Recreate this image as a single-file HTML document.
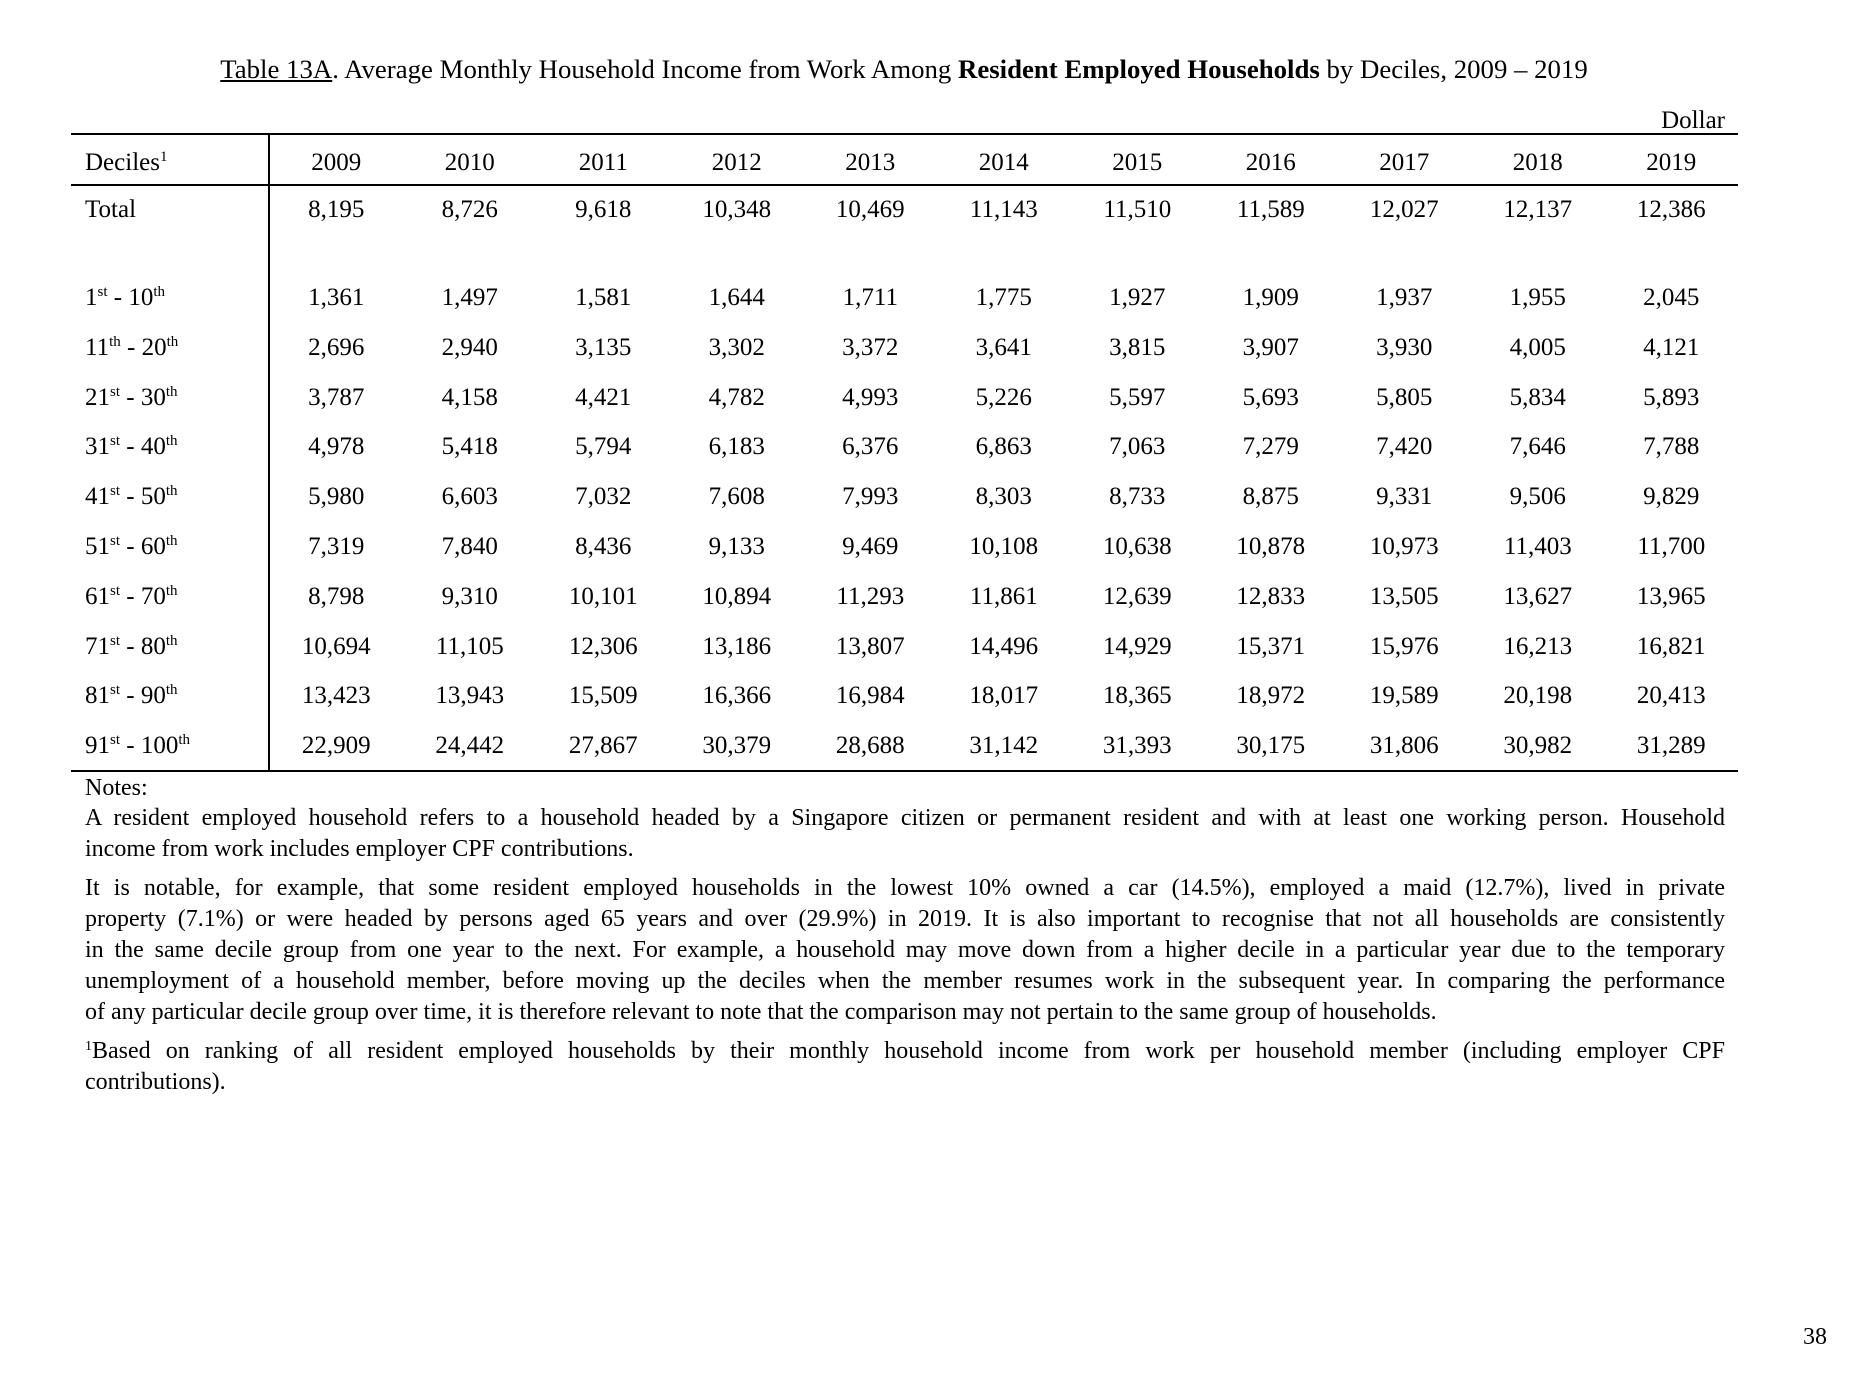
<!DOCTYPE html>
<html><head><meta charset="utf-8"><style>
body{margin:0;width:1850px;height:1378px;background:#fff;position:relative;font-family:"Liberation Serif",serif;color:#000;overflow:hidden}
.a{position:absolute;white-space:nowrap;line-height:1}
.h{position:absolute;background:#000}
.row{position:absolute;left:0;width:1850px;height:30px;font-size:25px}
.row span{position:absolute;top:0;width:134px;text-align:center;margin-left:-67px;line-height:30px}
.row .l{left:85px;margin-left:0;width:auto;text-align:left}
sup{font-size:15px;vertical-align:0;position:relative;top:-9px}
.n{position:absolute;left:85px;width:1640px;font-size:24px;line-height:31px;text-align:justify;text-align-last:justify;white-space:nowrap}
.n.e{text-align-last:left}
</style></head><body>
<div class="a" style="left:0;width:1808px;text-align:center;top:56px;font-size:26.8px"><u>Table 13A</u>. Average Monthly Household Income from Work Among <b>Resident Employed Households</b> by Deciles, 2009 – 2019</div>
<div class="a" style="right:125px;top:108px;font-size:25px">Dollar</div>
<div class="h" style="left:71px;width:1667px;top:133px;height:2px"></div>
<div class="h" style="left:71px;width:1667px;top:184px;height:2px"></div>
<div class="h" style="left:71px;width:1667px;top:770px;height:2px"></div>
<div class="h" style="left:268px;width:2px;top:133px;height:639px"></div>
<div id="rows"></div>
<div class="a" style="left:85px;top:776px;font-size:24px">Notes:</div>
<div class="n" style="top:803px">A resident employed household refers to a household headed by a Singapore citizen or permanent resident and with at least one working person. Household</div>
<div class="n e" style="top:834px">income from work includes employer CPF contributions.</div>
<div class="n" style="top:873px">It is notable, for example, that some resident employed households in the lowest 10% owned a car (14.5%), employed a maid (12.7%), lived in private</div>
<div class="n" style="top:904px">property (7.1%) or were headed by persons aged 65 years and over (29.9%) in 2019. It is also important to recognise that not all households are consistently</div>
<div class="n" style="top:935px">in the same decile group from one year to the next. For example, a household may move down from a higher decile in a particular year due to the temporary</div>
<div class="n" style="top:966px">unemployment of a household member, before moving up the deciles when the member resumes work in the subsequent year. In comparing the performance</div>
<div class="n e" style="top:997px">of any particular decile group over time, it is therefore relevant to note that the comparison may not pertain to the same group of households.</div>
<div class="n" style="top:1036px"><sup style="font-size:14px;top:-8px">1</sup>Based on ranking of all resident employed households by their monthly household income from work per household member (including employer CPF</div>
<div class="n e" style="top:1067px">contributions).</div>
<div class="a" style="left:1803px;top:1325px;font-size:24px">38</div>
<script>
var labels=["1<sup>st</sup> - 10<sup>th</sup>","11<sup>th</sup> - 20<sup>th</sup>","21<sup>st</sup> - 30<sup>th</sup>","31<sup>st</sup> - 40<sup>th</sup>","41<sup>st</sup> - 50<sup>th</sup>","51<sup>st</sup> - 60<sup>th</sup>","61<sup>st</sup> - 70<sup>th</sup>","71<sup>st</sup> - 80<sup>th</sup>","81<sup>st</sup> - 90<sup>th</sup>","91<sup>st</sup> - 100<sup>th</sup>"];
var data=[
["1,361","1,497","1,581","1,644","1,711","1,775","1,927","1,909","1,937","1,955","2,045"],
["2,696","2,940","3,135","3,302","3,372","3,641","3,815","3,907","3,930","4,005","4,121"],
["3,787","4,158","4,421","4,782","4,993","5,226","5,597","5,693","5,805","5,834","5,893"],
["4,978","5,418","5,794","6,183","6,376","6,863","7,063","7,279","7,420","7,646","7,788"],
["5,980","6,603","7,032","7,608","7,993","8,303","8,733","8,875","9,331","9,506","9,829"],
["7,319","7,840","8,436","9,133","9,469","10,108","10,638","10,878","10,973","11,403","11,700"],
["8,798","9,310","10,101","10,894","11,293","11,861","12,639","12,833","13,505","13,627","13,965"],
["10,694","11,105","12,306","13,186","13,807","14,496","14,929","15,371","15,976","16,213","16,821"],
["13,423","13,943","15,509","16,366","16,984","18,017","18,365","18,972","19,589","20,198","20,413"],
["22,909","24,442","27,867","30,379","28,688","31,142","31,393","30,175","31,806","30,982","31,289"]];
var rows=[["Deciles<sup>1</sup>",148,["2009","2010","2011","2012","2013","2014","2015","2016","2017","2018","2019"]],
["Total",195,["8,195","8,726","9,618","10,348","10,469","11,143","11,510","11,589","12,027","12,137","12,386"]]];
for(var k=0;k<10;k++)rows.push([labels[k],283+k*49.8,data[k]]);
var h="";
rows.forEach(function(r){
 h+='<div class="row" style="top:'+r[1]+'px"><span class="l">'+r[0]+'</span>';
 r[2].forEach(function(v,i){h+='<span style="left:'+(336.3+133.5*i)+'px">'+v+'</span>';});
 h+='</div>';
});
document.getElementById("rows").innerHTML=h;
</script>
</body></html>
